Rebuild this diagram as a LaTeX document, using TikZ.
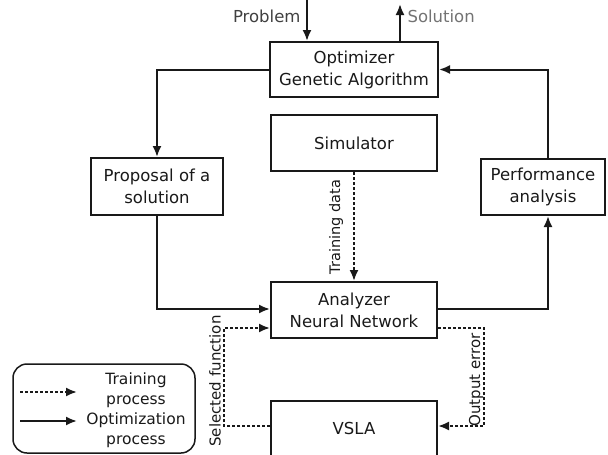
\documentclass[tikz,border=0pt]{standalone}
\usepackage{fontspec}
\setmainfont{DejaVu Sans}
\usetikzlibrary{arrows.meta}
\begin{document}
\begin{tikzpicture}[x=1pt,y=-1pt,
  font=\fontsize{16.5}{22}\selectfont,
  block/.style={draw=black!90,line width=2pt,align=center,inner sep=0pt,text=black!90},
  flow/.style={line width=2pt,draw=black!90,-{Latex[length=11pt,width=9pt]}},
  train/.style={flow,dash pattern=on 3pt off 2pt},
  sidelabel/.style={rotate=90,font=\fontsize{15}{16}\selectfont,text=black!90}]
\useasboundingbox (0,0) rectangle (608,455);

% main blocks
\node[block,minimum width=168pt,minimum height=55pt] (opt) at (354,69.5) {Optimizer\\Genetic Algorithm};
\node[block,minimum width=166pt,minimum height=56pt] (sim) at (354,143) {Simulator};
\node[block,minimum width=166pt,minimum height=56pt] (ana) at (354,310) {Analyzer\\Neural Network};
\node[block,minimum width=166pt,minimum height=55pt] (vsla) at (354,428) {VSLA};
\node[block,minimum width=132pt,minimum height=57pt] (prop) at (157,186.5) {Proposal of a\\solution};
\node[block,minimum width=124pt,minimum height=56pt] (perf) at (543,187) {Performance\\analysis};

% problem in, solution out
\coordinate (pin) at (307,0);
\coordinate (sout) at (400,4);
\draw[flow] (pin) -- (pin |- opt.north);
\draw[flow] (sout |- opt.north) -- (sout);
\node[anchor=east,text=black!75] (ptxt) at (304,16) {Problem};
\node[anchor=west,text=black!55] (stxt) at (404,16) {Solution};

% optimization loop
\draw[flow] (opt.west) -| (prop.north);
\draw[flow] (prop.south) |- ([yshift=1pt]ana.west);
\draw[flow] ([yshift=1pt]ana.east) -| ([xshift=5pt]perf.south);
\draw[flow] ([xshift=5pt]perf.north) |- (opt.east);

% training paths
\draw[train] (sim.south) -- (ana.north);
\node[sidelabel,font=\fontsize{14.5}{16}\selectfont] (tdata) at (336,227) {Training data};
\draw[train] ([yshift=-18pt]ana.east) -- ++(46,0) |- ([yshift=2pt]vsla.east);
\draw[train] ([yshift=2pt]vsla.west) -- ++(-46,0) |- ([yshift=-18pt]ana.west);
\node[sidelabel] (selfn) at (215,381) {Selected function};
\node[sidelabel] (outerr) at (476,380) {Output error};

% legend
\node[draw=black!90,line width=1.5pt,rounded corners=14pt,minimum width=182pt,minimum height=89pt] (legend) at (104,408.5) {};
\coordinate (l1a) at (20,392);
\coordinate (l1b) at (77,392);
\coordinate (l2a) at (20,421);
\coordinate (l2b) at (77,421);
\draw[train] (l1a) -- (l1b);
\draw[flow] (l2a) -- (l2b);
\node[align=center,text=black!90,font=\fontsize{15.5}{20}\selectfont] (ltrain) at (136,390.5) {Training\\process};
\node[align=center,text=black!90,font=\fontsize{15.5}{20}\selectfont] (lopt) at (136,430) {Optimization\\process};
\end{tikzpicture}
\end{document}
